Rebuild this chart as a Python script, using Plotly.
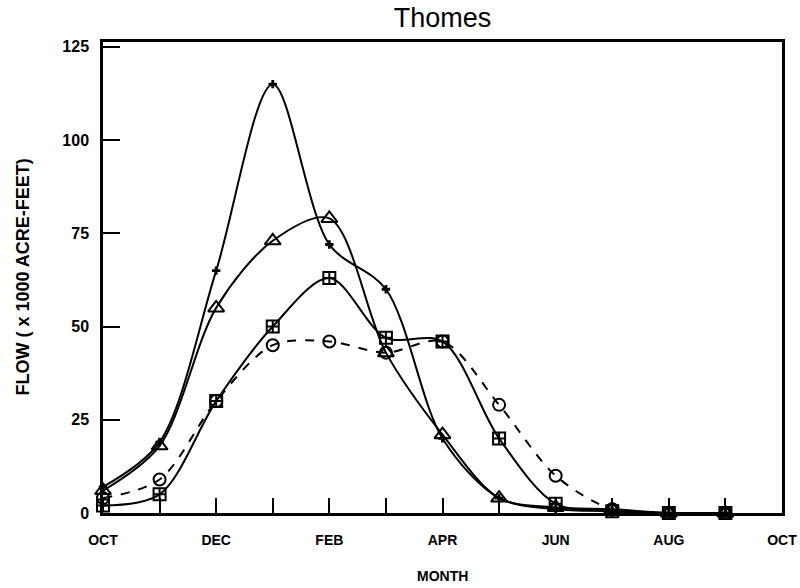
import plotly.graph_objects as go

# ---- data ----
months = ["OCT", "NOV", "DEC", "JAN", "FEB", "MAR", "APR", "MAY", "JUN", "JUL", "AUG", "SEP"]
month_idx = list(range(len(months)))
tick_vals = list(range(13))
tick_text = ["OCT", "", "DEC", "", "FEB", "", "APR", "", "JUN", "", "AUG", "", "OCT"]

flow_triangle = [6, 18, 55, 73, 79, 43, 21, 4, 1.5, 1, 0, 0]
flow_plus = [7, 19, 65, 115, 72, 60, 20, 4, 1, 0.5, 0, 0]
flow_square = [2, 5, 30, 50, 63, 47, 46, 20, 2.5, 0.5, 0, 0]
flow_circle = [4, 9, 30, 45, 46, 43, 46, 29, 10, 1, 0, 0]

y_tick_vals = [0, 25, 50, 75, 100, 125]

FONT = "Liberation Sans, Arial, Helvetica, sans-serif"

fig = go.Figure()

def add(vals, symbol, size, dash="solid", mlw=2):
    fig.add_trace(go.Scatter(
        x=month_idx, y=vals, mode="lines+markers",
        line=dict(color="black", width=2, shape="spline", smoothing=0.9, dash=dash),
        marker=dict(symbol=symbol, size=size, color="black",
                    line=dict(color="black", width=mlw)),
        showlegend=False, cliponaxis=False,
    ))

add(flow_plus, "cross", 7, mlw=0)
add(flow_triangle, "triangle-up-open", 14)
add(flow_square, "square-cross-open", 12)
add(flow_circle, "circle-open", 12, dash="dash")

fig.update_layout(
    width=800, height=588,
    margin=dict(l=103, r=18, t=42, b=75, autoexpand=False),
    paper_bgcolor="white", plot_bgcolor="white",
    font=dict(family=FONT, color="black"),
    title=dict(text="Thomes", x=0.5, xanchor="center", xref="paper",
               y=1 - 18 / 588, yanchor="middle", automargin=False,
               font=dict(size=27, family=FONT, color="black")),
    xaxis=dict(range=[0, 12], tickvals=tick_vals, ticktext=tick_text,
               ticks="inside", ticklen=15, tickwidth=2, tickcolor="black",
               showline=True, linewidth=2.5, linecolor="black", mirror=True,
               showgrid=False, zeroline=False, ticklabelstandoff=12,
               automargin=False,
               tickfont=dict(size=14, family=FONT, weight="bold")),
    yaxis=dict(range=[0, 126.3], tickvals=y_tick_vals,
               ticks="inside", ticklen=17, tickwidth=2, tickcolor="black",
               showline=True, linewidth=2.5, linecolor="black", mirror=True,
               showgrid=False, zeroline=False, ticklabelstandoff=8,
               automargin=False,
               tickfont=dict(size=16, family=FONT, weight="bold")),
    annotations=[
        dict(text="FLOW ( x 1000 ACRE-FEET)", xref="paper", yref="paper",
             x=0, y=0.5, xshift=-81, textangle=-90, showarrow=False,
             xanchor="center", yanchor="middle",
             font=dict(size=18, family=FONT, weight="bold")),
        dict(text="MONTH", xref="paper", yref="paper",
             x=0.5, y=0, yshift=-63, showarrow=False,
             xanchor="center", yanchor="middle",
             font=dict(size=14, family=FONT, weight="bold")),
    ],
)

fig.write_html("out.html", config={"displayModeBar": False},
               post_script="document.body.style.margin='0';document.body.style.overflow='hidden';")
